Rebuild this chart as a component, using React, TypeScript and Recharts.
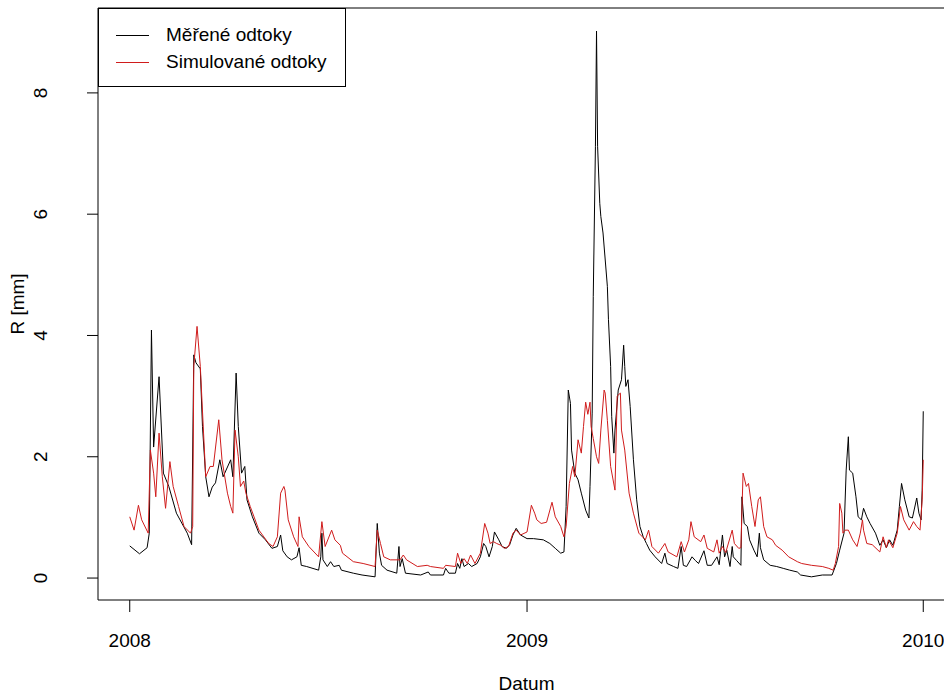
import { LineChart, Line, XAxis, YAxis, ReferenceArea } from 'recharts';

// days since 2008-01-01 (vertices of the hydrographs)
const measuredDays = [
  0, 9, 16, 18, 20, 22, 27, 31, 36, 43, 53, 57, 59, 61, 65, 67, 70, 73, 76, 79, 83, 86, 93, 95, 98,
  100, 103, 106, 108, 113, 119, 125, 131, 136, 139, 141, 145, 149, 154, 156, 158, 163, 174, 176, 177,
  178, 182, 185, 188, 193, 195, 206, 214, 226, 228, 230, 232, 237, 246, 248, 249, 251, 254, 268, 275,
  277, 289, 291, 294, 300, 302, 304, 306, 308, 312, 315, 320, 323, 326, 328, 331, 334, 336, 340, 343,
  347, 350, 353, 356, 360, 366, 372, 381, 387, 392, 397, 400, 402, 404, 406, 407, 410, 413, 416, 420,
  423, 424, 426, 427, 429, 430, 431, 433, 434, 436, 440, 441, 443, 444, 446, 447, 450, 453, 455, 456,
  457, 459, 461, 464, 467, 470, 473, 476, 479, 484, 490, 493, 495, 501, 505, 508, 510, 513, 518, 521,
  524, 529, 532, 536, 541, 543, 546, 548, 550, 553, 555, 556, 559, 563, 564, 566, 569, 571, 575, 578,
  580, 581, 584, 590, 596, 602, 608, 615, 618, 628, 638, 647, 651, 654, 658, 660, 662, 663, 666, 669,
  671, 674, 676, 679, 682, 687, 691, 694, 697, 700, 703, 707, 709, 711, 714, 718, 721, 725, 727, 729,
  730, 731,
];
const measuredValues = [
  0.53, 0.4, 0.5, 0.74, 4.09, 2.16, 3.32, 1.73, 1.51, 1.07, 0.74, 0.55, 3.68, 3.55, 3.45, 2.5, 1.67,
  1.34, 1.5, 1.57, 1.95, 1.67, 1.95, 1.67, 3.38, 2.5, 1.73, 1.84, 1.29, 1.01, 0.74, 0.63, 0.49, 0.52,
  0.71, 0.45, 0.35, 0.3, 0.35, 0.5, 0.21, 0.19, 0.13, 0.35, 0.74, 0.3, 0.19, 0.27, 0.19, 0.21, 0.13,
  0.08, 0.05, 0.02, 0.9, 0.41, 0.21, 0.13, 0.08, 0.52, 0.19, 0.32, 0.08, 0.05, 0.1, 0.05, 0.05, 0.16,
  0.08, 0.08, 0.24, 0.16, 0.32, 0.19, 0.24, 0.19, 0.24, 0.35, 0.57, 0.52, 0.35, 0.52, 0.76, 0.63, 0.52,
  0.49, 0.55, 0.71, 0.82, 0.71, 0.65, 0.65, 0.63, 0.57, 0.49, 0.41, 0.43, 1.18, 3.1, 2.88, 2.11, 1.73,
  1.62, 1.4, 1.12, 0.99, 1.51, 2.72, 4.64, 7.12, 9.02, 7.12, 6.18, 5.96, 5.69, 4.81, 4.26, 3.49, 2.66,
  2.06, 2.44, 3.1, 3.27, 3.84, 3.49, 3.16, 3.27, 2.83, 1.95, 1.29, 0.85, 0.68, 0.57, 0.46, 0.35, 0.24,
  0.41, 0.24, 0.19, 0.16, 0.52, 0.21, 0.19, 0.35, 0.29, 0.24, 0.45, 0.21, 0.21, 0.35, 0.22, 0.71, 0.35,
  0.46, 0.19, 0.52, 0.35, 0.29, 0.21, 1.34, 0.9, 0.85, 0.63, 0.46, 0.35, 0.74, 0.5, 0.3, 0.21, 0.19,
  0.16, 0.13, 0.1, 0.05, 0.02, 0.05, 0.05, 0.24, 0.46, 0.74, 1.78, 2.33, 1.78, 1.73, 1.34, 1.01, 0.96,
  1.15, 1.01, 0.9, 0.74, 0.54, 0.63, 0.5, 0.63, 0.54, 0.79, 1.18, 1.56, 1.29, 1.01, 0.99, 1.32, 1.07,
  0.96, 1.45, 2.75,
];

const simulatedDays = [
  0, 4, 8, 11, 17, 19, 22, 24, 27, 30, 33, 37, 40, 45, 50, 56, 58, 59, 62, 65, 68, 70, 74, 77, 82, 85,
  90, 93, 95, 97, 100, 102, 105, 107, 111, 119, 128, 132, 136, 139, 142, 143, 146, 151, 155, 156, 159,
  165, 174, 177, 180, 186, 189, 194, 196, 206, 215, 226, 228, 231, 234, 240, 249, 252, 255, 265, 274,
  277, 289, 291, 300, 302, 305, 308, 311, 314, 318, 323, 327, 330, 332, 335, 338, 342, 345, 349, 353,
  356, 360, 366, 370, 373, 375, 379, 384, 389, 392, 397, 400, 402, 405, 408, 410, 413, 416, 418, 420,
  422, 424, 425, 427, 430, 432, 434, 437, 438, 440, 443, 447, 449, 452, 453, 456, 460, 464, 469, 475,
  478, 481, 487, 493, 496, 504, 508, 511, 515, 517, 520, 526, 529, 532, 538, 541, 543, 546, 549, 555,
  557, 561, 563, 565, 568, 570, 573, 576, 579, 581, 584, 587, 592, 595, 601, 607, 615, 619, 628, 638,
  644, 648, 650, 653, 654, 656, 657, 659, 662, 666, 670, 673, 675, 676, 679, 684, 691, 694, 697, 699,
  703, 707, 710, 713, 718, 722, 725, 728, 730, 731,
];
const simulatedValues = [
  1.01, 0.79, 1.2, 0.96, 0.74, 2.11, 1.73, 1.34, 2.39, 1.67, 1.15, 1.92, 1.51, 1.18, 0.85, 0.74, 0.85,
  3.49, 4.15, 3.49, 2.39, 1.67, 1.84, 1.84, 2.61, 1.95, 1.4, 1.18, 1.07, 2.44, 2.0, 1.51, 1.6, 1.4,
  1.18, 0.79, 0.57, 0.52, 0.68, 1.4, 1.51, 1.45, 0.96, 0.68, 0.52, 1.01, 0.68, 0.52, 0.35, 0.93, 0.52,
  0.79, 0.63, 0.54, 0.41, 0.27, 0.24, 0.19, 0.79, 0.57, 0.35, 0.3, 0.3, 0.38, 0.3, 0.19, 0.21, 0.19,
  0.16, 0.21, 0.19, 0.41, 0.24, 0.32, 0.24, 0.38, 0.24, 0.41, 0.9, 0.74, 0.57, 0.6, 0.57, 0.54, 0.49,
  0.52, 0.74, 0.79, 0.71, 0.76, 1.2, 1.07, 0.96, 0.9, 0.92, 1.25, 1.01, 0.85, 0.68, 0.85, 1.56, 1.84,
  1.67, 2.28, 2.06, 2.5, 2.9, 2.7, 2.9, 2.5, 2.3, 2.0, 1.89, 2.44, 3.1, 3.05, 2.6, 1.84, 1.45, 3.0,
  3.05, 2.44, 2.11, 1.4, 1.07, 0.74, 0.63, 0.79, 0.52, 0.41, 0.57, 0.43, 0.35, 0.6, 0.43, 0.63, 0.93,
  0.68, 0.6, 0.71, 0.49, 0.43, 0.63, 0.41, 0.52, 0.42, 0.79, 0.57, 0.49, 0.5, 1.73, 1.51, 1.56, 1.18,
  0.85, 1.29, 1.34, 0.85, 0.68, 0.63, 0.54, 0.46, 0.35, 0.27, 0.24, 0.21, 0.19, 0.16, 0.13, 0.24, 0.52,
  1.23, 1.07, 0.74, 0.79, 0.79, 0.63, 0.52, 0.74, 0.96, 0.79, 0.57, 0.55, 0.43, 0.68, 0.5, 0.63, 0.5,
  0.74, 1.18, 0.96, 0.79, 0.93, 0.85, 0.79, 1.29, 1.95,
];

const seriesNames = ['Měřené odtoky', 'Simulované odtoky'];
const seriesColors = ['#000000', '#d01c1c'];

const yearTicks = [0, 366, 731];
const yearLabels = ['2008', '2009', '2010'];
const yTicks = [0, 2, 4, 6, 8];

const xDomain = [-29.24, 760.24];
const yDomain = [-0.362, 9.4];

const measuredData = measuredDays.map((d, i) => ({ day: d, value: measuredValues[i] }));
const simulatedData = simulatedDays.map((d, i) => ({ day: d, value: simulatedValues[i] }));

const font = '"Liberation Sans", Arial, sans-serif';

const XTick = (props: any) => {
  const { x, payload, index } = props;
  return (
    <text x={x} y={647} textAnchor="middle" fontSize={19} fontFamily={font} fill="#000">
      {yearLabels[index] ?? payload.value}
    </text>
  );
};

const YTick = (props: any) => {
  const { y, payload } = props;
  return (
    <text
      x={47}
      y={y}
      transform={`rotate(-90, 47, ${y})`}
      textAnchor="middle"
      fontSize={19}
      fontFamily={font}
      fill="#000"
    >
      {payload.value}
    </text>
  );
};

export default function App() {
  return (
    <div
      style={{
        position: 'absolute',
        left: 0,
        top: 0,
        width: 944,
        height: 699,
        overflow: 'hidden',
        background: '#fff',
        fontFamily: font,
      }}
    >
      <LineChart width={960} height={699} margin={{ top: 8, right: 5, bottom: 0, left: 0 }}>
        <XAxis
          dataKey="day"
          type="number"
          domain={xDomain}
          allowDataOverflow
          ticks={yearTicks}
          tick={<XTick />}
          tickSize={12}
          tickLine={{ stroke: '#000' }}
          axisLine={false}
          height={99}
          interval={0}
        />
        <YAxis
          type="number"
          domain={yDomain}
          allowDataOverflow
          ticks={yTicks}
          tick={<YTick />}
          tickSize={11}
          tickLine={{ stroke: '#000' }}
          axisLine={false}
          width={98}
          interval={0}
        />
        <Line
          data={measuredData}
          dataKey="value"
          type="linear"
          stroke={seriesColors[0]}
          strokeWidth={1}
          dot={false}
          activeDot={false}
          isAnimationActive={false}
        />
        <Line
          data={simulatedData}
          dataKey="value"
          type="linear"
          stroke={seriesColors[1]}
          strokeWidth={1}
          dot={false}
          activeDot={false}
          isAnimationActive={false}
        />
        <ReferenceArea
          x1={xDomain[0]}
          x2={xDomain[1]}
          y1={yDomain[0]}
          y2={yDomain[1]}
          fill="none"
          stroke="#000"
          strokeWidth={1}
          ifOverflow="visible"
        />
      </LineChart>

      {/* axis titles */}
      <div style={{ position: 'absolute', left: 0, top: 673, width: 1053, textAlign: 'center', fontSize: 19 }}>
        Datum
      </div>
      <div
        style={{
          position: 'absolute',
          left: 18,
          top: 304,
          fontSize: 19,
          whiteSpace: 'nowrap',
          transform: 'translate(-50%, -50%) rotate(-90deg)',
        }}
      >
        R [mm]
      </div>

      {/* legend */}
      <div
        style={{
          position: 'absolute',
          left: 98,
          top: 8,
          width: 248,
          height: 79,
          border: '1px solid #000',
          boxSizing: 'border-box',
          background: '#fff',
        }}
      >
        {seriesNames.map((name, i) => (
          <div
            key={name}
            style={{ position: 'absolute', left: 0, top: 14 + i * 27, height: 24, display: 'flex', alignItems: 'center' }}
          >
            <span style={{ display: 'inline-block', marginLeft: 17, width: 33, borderTop: `1px solid ${seriesColors[i]}` }} />
            <span style={{ marginLeft: 17, fontSize: 19, color: '#000', whiteSpace: 'nowrap' }}>{name}</span>
          </div>
        ))}
      </div>
    </div>
  );
}
